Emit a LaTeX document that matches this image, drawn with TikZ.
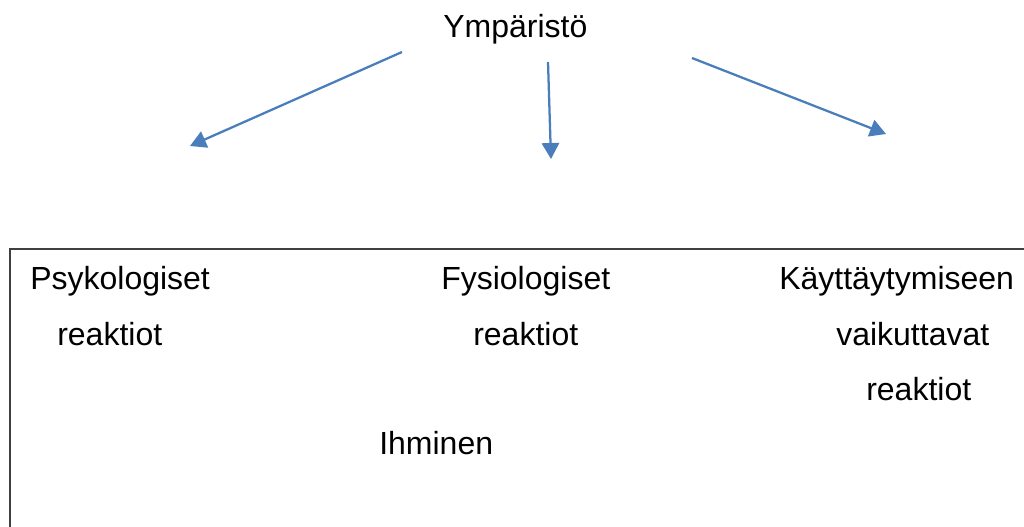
\documentclass[tikz,border=0pt]{standalone}
\usepackage{fontspec}
\setmainfont{Liberation Sans}
\usetikzlibrary{arrows.meta}
\definecolor{arrowblue}{RGB}{74,126,187}
\definecolor{boxgray}{RGB}{64,64,64}
\begin{document}
\begin{tikzpicture}[x=0.75pt,y=-0.75pt,
    label/.style={anchor=base west,inner sep=0pt,font=\fontsize{24}{28}\selectfont},
    flow/.style={draw=arrowblue,line width=1.7pt,-{Triangle[length=12pt,width=13pt]}}] % Ympäristö ja ihminen
   \useasboundingbox (0,0) rectangle (1024,526);
   \clip (0,0) rectangle (1024,526);
   \draw[boxgray,line width=1.1pt] (10,249) rectangle (1040,545);
   \node[label] (env) at (443,37) {Ympäristö};
   \node[label] (psy1) at (30,289) {Psykologiset};
   \node[label] (psy2) at (57,345) {reaktiot};
   \node[label] (fys1) at (441,289) {Fysiologiset};
   \node[label] (fys2) at (473,345) {reaktiot};
   \node[label] (kay1) at (779,289) {Käyttäytymiseen};
   \node[label] (kay2) at (836,345) {vaikuttavat};
   \node[label] (kay3) at (866,400) {reaktiot};
   \node[label] (human) at (379,454) {Ihminen};
   \coordinate (lstart) at (402,52);
   \coordinate (lend) at (190,146);
   \coordinate (mstart) at (548,62);
   \coordinate (mend) at (551,159);
   \coordinate (rstart) at (692,58);
   \coordinate (rend) at (886,134);
   \draw[flow] (lstart) -- (lend);
   \draw[flow] (mstart) -- (mend);
   \draw[flow] (rstart) -- (rend);
\end{tikzpicture}
\end{document}
